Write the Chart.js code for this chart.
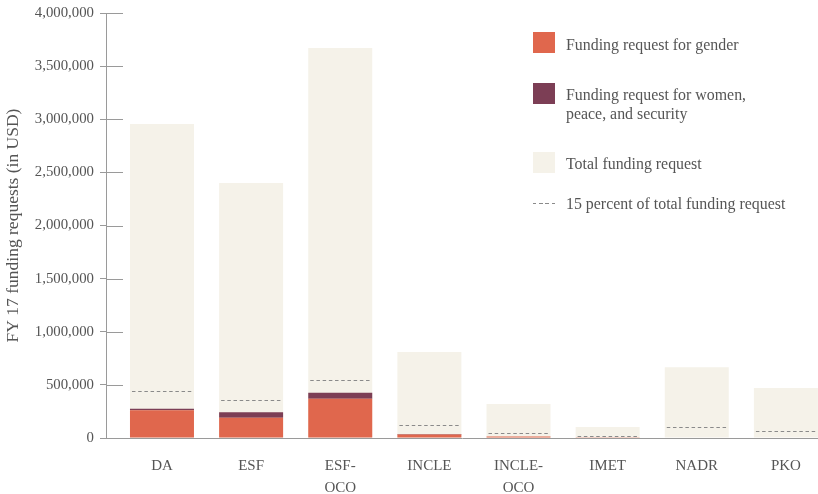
<!DOCTYPE html>
<html>
<head>
<meta charset="utf-8">
<script src="https://cdn.jsdelivr.net/npm/chart.js@4"></script>
<style>
  html, body { margin: 0; padding: 0; background: #fff; overflow: hidden; }
  #wrap { position: relative; width: 818px; height: 494px; }
  canvas { position: absolute; left: 0; top: 0; }
  .lg { position: absolute; font-family: "Liberation Serif", "DejaVu Serif", serif; font-size: 15.9px; color: #555; line-height: 19px; white-space: nowrap; }
  .sw { position: absolute; width: 22px; height: 21px; }
  .dash { position: absolute; width: 22px; height: 1px; background: repeating-linear-gradient(to right, #8a8a8a 0 3.5px, transparent 3.5px 6.2px); }
</style>
</head>
<body>
<div id="wrap">
  <canvas id="c" width="818" height="494"></canvas>
  <div id="legend"></div>
</div>
<script>
// ---- data ----
const categories = [["DA"], ["ESF"], ["ESF-", "OCO"], ["INCLE"], ["INCLE-", "OCO"], ["IMET"], ["NADR"], ["PKO"]];
const genderRequest = [261000, 191000, 370000, 33000, 15000, 2000, 0, 0];
const wpsRequest    = [15000, 51000, 56000, 4000, 0, 0, 0, 0];
const totalRequest  = [2955000, 2400000, 3670000, 809000, 320000, 104000, 665000, 470000];
const fifteenPct    = [443000, 360000, 550000, 121000, 48000, 16000, 100000, 70000];
const yTicks        = [0, 500000, 1000000, 1500000, 2000000, 2500000, 3000000, 3500000, 4000000];

const seriesLabels = ["Funding request for gender", "Funding request for women, peace, and security", "Total funding request", "15 percent of total funding request"];
const colors = { gender: "#E0674D", wps: "#7C3E55", total: "#F5F2E9", dash: "#8a8a8a", axis: "#9a9a9a", text: "#555555" };

const SERIF = '"Liberation Serif", "DejaVu Serif", serif';
const toXY = arr => arr.map((v, i) => ({ x: i, y: v }));

// dashed 15% lines and y tick extensions
const extras = {
  id: 'extras',
  afterDatasetsDraw(chart) {
    const ctx = chart.ctx;
    const y = chart.scales.y;
    const meta = chart.getDatasetMeta(2);
    ctx.save();
    ctx.strokeStyle = colors.dash;
    ctx.lineWidth = 1;
    ctx.setLineDash([3.5, 2.7]);
    meta.data.forEach((bar, i) => {
      const py = Math.round(y.getPixelForValue(fifteenPct[i])) + 0.5;
      ctx.beginPath();
      ctx.moveTo(bar.x - bar.width / 2 + 2, py);
      ctx.lineTo(bar.x + bar.width / 2 - 2, py);
      ctx.stroke();
    });
    ctx.restore();
  },
  afterDraw(chart) {
    const ctx = chart.ctx;
    const y = chart.scales.y;
    const left = chart.chartArea.left;
    ctx.save();
    ctx.strokeStyle = colors.axis;
    ctx.lineWidth = 1;
    y.ticks.forEach(t => {
      const py = Math.round(y.getPixelForValue(t.value)) + 0.5;
      ctx.beginPath();
      ctx.moveTo(left, py);
      ctx.lineTo(left + 17, py);
      ctx.stroke();
    });
    ctx.restore();
  }
};

const chart = new Chart(document.getElementById('c'), {
  type: 'bar',
  data: {
    datasets: [
      { label: seriesLabels[0], data: toXY(genderRequest), backgroundColor: colors.gender, stack: 'parts', grouped: false, order: 0 },
      { label: seriesLabels[1], data: toXY(wpsRequest), backgroundColor: colors.wps, stack: 'parts', grouped: false, order: 0 },
      { label: seriesLabels[2], data: toXY(totalRequest), backgroundColor: colors.total, stack: 'total', grouped: false, order: 5 }
    ]
  },
  options: {
    responsive: false,
    animation: false,
    devicePixelRatio: 1,
    barPercentage: 0.718,
    categoryPercentage: 1,
    layout: { padding: { top: 13, left: 0, right: 0, bottom: 0 } },
    plugins: { legend: { display: false }, tooltip: { enabled: false } },
    scales: {
      x: {
        type: 'linear',
        offset: false,
        min: -0.628,
        max: 7.36,
        afterBuildTicks(scale) { scale.ticks = categories.map((_, i) => ({ value: i })); },
        afterFit(scale) { scale.height = 56; scale.paddingLeft = 0; scale.paddingRight = 0; },
        grid: { display: false, drawTicks: false, offset: false },
        border: { display: true, color: colors.axis, width: 1 },
        ticks: {
          padding: 17,
          color: colors.text,
          font: { family: SERIF, size: 15, lineHeight: 1.45 },
          maxRotation: 0,
          autoSkip: false,
          callback: (v) => categories[v] || ''
        }
      },
      y: {
        stacked: true,
        min: 0,
        max: 4000000,
        afterBuildTicks(scale) { scale.ticks = yTicks.map(v => ({ value: v })); },
        afterFit(scale) { scale.width = 106; scale.paddingTop = 0; scale.paddingBottom = 0; },
        grid: { drawOnChartArea: false, drawTicks: true, tickLength: 6, color: colors.axis },
        border: { display: true, color: colors.axis, width: 1 },
        ticks: {
          padding: 6,
          color: colors.text,
          font: { family: SERIF, size: 14.8 },
          callback: (v) => v.toLocaleString('en-US')
        },
        title: {
          display: true,
          text: 'FY 17 funding requests (in USD)',
          color: colors.text,
          font: { family: SERIF, size: 17.5 },
          padding: { top: 3, bottom: 0 }
        }
      }
    }
  },
  plugins: [extras]
});

// HTML legend built from the series labels and colours
const legend = document.getElementById('legend');
const items = [
  { kind: 'sw', color: colors.gender, text: seriesLabels[0], swTop: 32, txtTop: 34.5 },
  { kind: 'sw', color: colors.wps, text: "Funding request for women,<br>peace, and security", swTop: 83, txtTop: 84.5 },
  { kind: 'sw', color: colors.total, text: seriesLabels[2], swTop: 152, txtTop: 153.5 },
  { kind: 'dash', color: colors.dash, text: seriesLabels[3], swTop: 203, txtTop: 193.5 }
];
items.forEach(it => {
  const s = document.createElement('div');
  s.className = it.kind === 'sw' ? 'sw' : 'dash';
  s.style.left = '533px';
  s.style.top = it.swTop + 'px';
  if (it.kind === 'sw') s.style.background = it.color;
  legend.appendChild(s);
  const t = document.createElement('div');
  t.className = 'lg';
  t.style.left = '566px';
  t.style.top = it.txtTop + 'px';
  t.innerHTML = it.text;
  legend.appendChild(t);
});
</script>
</body>
</html>
